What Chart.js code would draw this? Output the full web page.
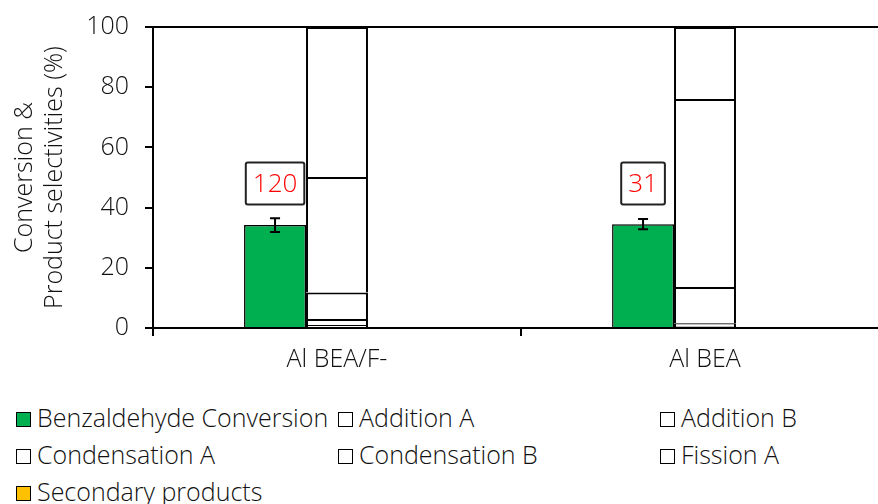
<!DOCTYPE html>
<html>
<head>
<meta charset="utf-8">
<script src="https://cdn.jsdelivr.net/npm/chart.js@4/dist/chart.umd.min.js"></script>
<style>
  html, body { margin: 0; padding: 0; background: #fff; width: 878px; height: 504px; overflow: hidden; }
  #wrap { position: absolute; left: 0; top: 0; width: 900px; height: 380px; }
  #legend { position: absolute; left: 16px; top: 402px; width: 966px; font-family: "Open Sans", sans-serif; font-weight: 300; font-size: 25px; color: #111; }
  .item { position: absolute; white-space: nowrap; line-height: 30px; }
  .box { display: inline-block; width: 13px; height: 13px; border: 1.5px solid #000; margin-right: 6px; vertical-align: 0px; }
</style>
</head>
<body>
<div id="wrap"><canvas id="chart"></canvas></div>
<div id="legend"></div>
<script>
var categories = ['Al BEA/F-', 'Al BEA'];
var conversion = [34.2, 34.5];
var conversionErr = [2.3, 1.7];
var additionA = [1.0, 0.7];
var additionB = [2.0, 0.9];
var condensationA = [8.8, 12.0];
var condensationB = [38.4, 62.5];
var fissionA = [49.8, 23.9];
var secondary = [0, 0];
var boxLabels = ['120', '31'];
var boxLevel = [48, 48];
var yTicks = [0, 20, 40, 60, 80, 100];

var fontFamily = '"Open Sans", sans-serif';
var textColor = '#111';

var productSeries = [
    { label: 'Addition A', data: additionA, color: '#ffffff' },
    { label: 'Addition B', data: additionB, color: '#ffffff' },
    { label: 'Condensation A', data: condensationA, color: '#ffffff' },
    { label: 'Condensation B', data: condensationB, color: '#ffffff' },
    { label: 'Fission A', data: fissionA, color: '#ffffff' },
    { label: 'Secondary products', data: secondary, color: '#ffc000' }
];

var datasets = [{
    label: 'Benzaldehyde Conversion',
    data: conversion,
    backgroundColor: '#00b050',
    borderColor: '#000',
    borderWidth: 1.5,
    stack: 'conv'
}];
productSeries.forEach(function (s) {
    datasets.push({
        label: s.label,
        data: s.data,
        backgroundColor: s.color,
        borderColor: '#000',
        borderWidth: 2,
        stack: 'prod'
    });
});
// empty slot so the two bars sit left of the category centre, as in the original
datasets.push({ label: '', data: [null, null], stack: 'gap' });

// error bars on the conversion bars
var errorBars = {
    id: 'errorBars',
    afterDatasetsDraw: function (chart) {
        var ctx = chart.ctx;
        var y = chart.scales.y;
        var meta = chart.getDatasetMeta(0);
        ctx.save();
        ctx.strokeStyle = '#000';
        ctx.lineWidth = 2;
        meta.data.forEach(function (bar, i) {
            var top = y.getPixelForValue(conversion[i] + conversionErr[i]);
            var bot = y.getPixelForValue(conversion[i] - conversionErr[i]);
            ctx.beginPath();
            ctx.moveTo(bar.x, top); ctx.lineTo(bar.x, bot);
            ctx.moveTo(bar.x - 5, top); ctx.lineTo(bar.x + 5, top);
            ctx.moveTo(bar.x - 5, bot); ctx.lineTo(bar.x + 5, bot);
            ctx.stroke();
        });
        ctx.restore();
    }
};

// boxed numbers above the conversion bars
var boxNotes = {
    id: 'boxNotes',
    afterDatasetsDraw: function (chart) {
        var ctx = chart.ctx;
        var y = chart.scales.y;
        var meta = chart.getDatasetMeta(0);
        ctx.save();
        ctx.font = '300 26px ' + fontFamily;
        ctx.textAlign = 'center';
        ctx.textBaseline = 'middle';
        meta.data.forEach(function (bar, i) {
            var cy = y.getPixelForValue(boxLevel[i]);
            var w = ctx.measureText(boxLabels[i]).width + 14;
            var h = 42;
            ctx.fillStyle = '#fff';
            ctx.strokeStyle = '#222';
            ctx.lineWidth = 2;
            ctx.beginPath();
            ctx.roundRect(bar.x - w / 2, cy - h / 2, w, h, 2);
            ctx.fill();
            ctx.stroke();
            ctx.fillStyle = '#ff0000';
            ctx.fillText(boxLabels[i], bar.x, cy + 1);
        });
        ctx.restore();
    }
};

var ctx = document.getElementById('chart').getContext('2d');
var chart = new Chart(ctx, {
    type: 'bar',
    data: { labels: categories, datasets: datasets },
    plugins: [errorBars, boxNotes],
    options: {
        responsive: true,
        maintainAspectRatio: false,
        animation: false,
        layout: { padding: { top: 0, right: 11, left: 0, bottom: 0 } },
        datasets: { bar: { barPercentage: 1, categoryPercentage: 0.505 } },
        plugins: { legend: { display: false }, tooltip: { enabled: false } },
        scales: {
            x: {
                stacked: true,
                border: { color: '#000', width: 2 },
                grid: { drawOnChartArea: false, color: '#000', lineWidth: 2, tickLength: 8 },
                ticks: { color: textColor, padding: 9, font: { family: fontFamily, weight: 300, size: 25 } },
                afterFit: function (s) { s.height = 52; }
            },
            xTop: {
                position: 'top',
                border: { color: '#000', width: 2 },
                grid: { display: false },
                ticks: { display: false },
                afterFit: function (s) { s.height = 27; }
            },
            y: {
                stacked: true,
                min: 0,
                max: 100,
                afterBuildTicks: function (s) { s.ticks = yTicks.map(function (v) { return { value: v }; }); },
                border: { color: '#000', width: 2 },
                grid: { drawOnChartArea: false, color: '#000', lineWidth: 2, tickLength: 8 },
                ticks: { color: textColor, padding: 16, font: { family: fontFamily, weight: 300, size: 25 } },
                title: {
                    display: true,
                    text: ['Conversion &', 'Product selectivities (%)'],
                    color: textColor,
                    padding: { top: 10, bottom: 0 },
                    font: { family: fontFamily, weight: 300, size: 25, lineHeight: 1.2 }
                },
                afterFit: function (s) {
                    s.width = 153;
                    // the tick padding would otherwise push the plot top down
                    s.paddingTop = 0;
                    s.paddingBottom = 0;
                }
            }
        }
    }
});

// legend laid out in three columns like the original
var legendItems = [{ label: 'Benzaldehyde Conversion', color: '#00b050' }].concat(productSeries);
var legendEl = document.getElementById('legend');
legendItems.forEach(function (it, i) {
    var div = document.createElement('div');
    div.className = 'item';
    div.style.left = (i % 3) * 322 + 'px';
    div.style.top = Math.floor(i / 3) * 37 + 'px';
    var box = document.createElement('span');
    box.className = 'box';
    box.style.background = it.color;
    div.appendChild(box);
    div.appendChild(document.createTextNode(it.label));
    legendEl.appendChild(div);
});
</script>
</body>
</html>
